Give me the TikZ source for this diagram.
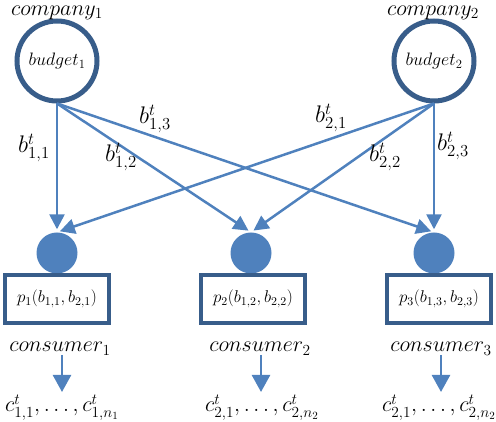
\RequirePackage{fix-cm}
\documentclass[tikz,border=0pt]{standalone}
\usetikzlibrary{arrows.meta}
\definecolor{dkblue}{HTML}{385D8A}
\definecolor{ltblue}{HTML}{4F81BD}
\begin{document}
\begin{tikzpicture}[x=1pt,y=1pt,
 company/.style={circle, draw=dkblue, line width=5pt, minimum size=80pt, inner sep=0pt, font=\fontsize{18}{21}\selectfont},
 dot/.style={circle, fill=ltblue, minimum size=41pt, inner sep=0pt},
 pbox/.style={draw=dkblue, line width=4pt, minimum width=104pt, minimum height=48pt, inner sep=0pt, font=\fontsize{17}{20}\selectfont},
 lbl/.style={font=\fontsize{22}{26}\selectfont, inner sep=0pt},
 elbl/.style={font=\fontsize{24}{28}\selectfont, inner sep=0pt},
 flow/.style={draw=ltblue, line width=2.5pt, -{Triangle[width=15pt,length=15pt]}, shorten >=3pt},
 small/.style={draw=ltblue, line width=2.5pt, -{Triangle[width=18pt,length=17pt]}},
]
\useasboundingbox (0,0) rectangle (496,422);
% companies
\node[company] (c1) at (57,361) {$budget_1$};
\node[company] (c2) at (434,361) {$budget_2$};
\node[lbl, anchor=base] (n1) at (57,406.5) {$company_1$};
\node[lbl, anchor=base] (n2) at (433,406.5) {$company_2$};
% dots
\node[dot] (d1) at (57,169) {};
\node[dot] (d2) at (251,169) {};
\node[dot] (d3) at (434,169) {};
% boxes
\node[pbox] (p1) at (57,123) {$p_1(b_{1,1},b_{2,1})$};
\node[pbox] (p2) at (253,123) {$p_2(b_{1,2},b_{2,2})$};
\node[pbox] (p3) at (439,123) {$p_3(b_{1,3},b_{2,3})$};
% consumer labels
\node[lbl, anchor=base] (k1) at (60,70) {$consumer_1$};
\node[lbl, anchor=base] (k2) at (260,70) {$consumer_2$};
\node[lbl, anchor=base] (k3) at (441,70) {$consumer_3$};
% c labels
\node[lbl, anchor=base] (e1) at (62,10) {$c^t_{1,1},\ldots,c^t_{1,n_1}$};
\node[lbl, anchor=base] (e2) at (262,10) {$c^t_{2,1},\ldots,c^t_{2,n_2}$};
\node[lbl, anchor=base] (e3) at (439,10) {$c^t_{2,1},\ldots,c^t_{2,n_2}$};
% small arrow coordinates
\coordinate (s1a) at (62,67); \coordinate (s1b) at (62,30);
\coordinate (s2a) at (261,67); \coordinate (s2b) at (261,30);
\coordinate (s3a) at (441,67); \coordinate (s3b) at (441,30);
% flows
\draw[flow] (c1.south) -- (d1.north);
\draw[flow] (c1.south) -- (d2.north);
\draw[flow] (c1.south) -- (d3.north);
\draw[flow] (c2.south) -- (d1.north);
\draw[flow] (c2.south) -- (d2.north);
\draw[flow] (c2.south) -- (d3.north);
\draw[small] (s1a) -- (s1b);
\draw[small] (s2a) -- (s2b);
\draw[small] (s3a) -- (s3b);
% edge labels
\node[elbl] (b11) at (34,274) {$b^t_{1,1}$};
\node[elbl] (b13) at (155,303) {$b^t_{1,3}$};
\node[elbl] (b12) at (121,265) {$b^t_{1,2}$};
\node[elbl] (b21) at (331,304) {$b^t_{2,1}$};
\node[elbl] (b22) at (385,265) {$b^t_{2,2}$};
\node[elbl] (b23) at (453,276) {$b^t_{2,3}$};
\end{tikzpicture}
\end{document}
